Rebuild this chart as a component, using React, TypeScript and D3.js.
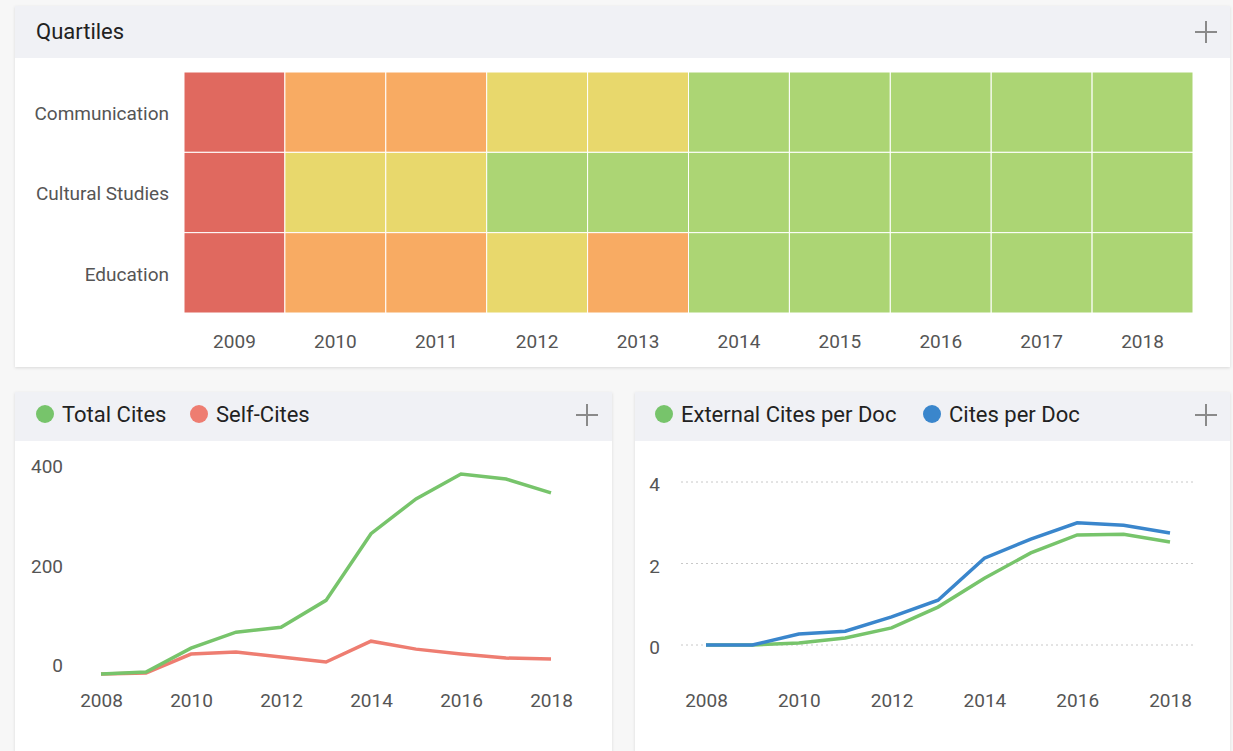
import React, { useEffect, useRef } from "react";
import * as d3 from "d3";

// quartile heatmap
const subjects = ["Communication", "Cultural Studies", "Education"];
const quartileYears = ["2009", "2010", "2011", "2012", "2013", "2014", "2015", "2016", "2017", "2018"];
const communicationQ = ["Q4", "Q3", "Q3", "Q2", "Q2", "Q1", "Q1", "Q1", "Q1", "Q1"];
const culturalQ = ["Q4", "Q2", "Q2", "Q1", "Q1", "Q1", "Q1", "Q1", "Q1", "Q1"];
const educationQ = ["Q4", "Q3", "Q3", "Q2", "Q3", "Q1", "Q1", "Q1", "Q1", "Q1"];
const quartiles = ["Q1", "Q2", "Q3", "Q4"];
const quartileColors = ["#acd574", "#e8d86c", "#f8ab63", "#e0695f"];

// cites charts
const years = [2008, 2009, 2010, 2011, 2012, 2013, 2014, 2015, 2016, 2017, 2018];
const totalCites = [0, 4, 52, 84, 94, 148, 282, 352, 402, 392, 364];
const selfCites = [0, 2, 40, 44, 34, 24, 66, 50, 40, 32, 30];
const externalPerDoc = [0, 0, 0.05, 0.17, 0.42, 0.93, 1.64, 2.26, 2.7, 2.72, 2.53];
const citesPerDoc = [0, 0, 0.27, 0.34, 0.69, 1.1, 2.13, 2.6, 3.0, 2.94, 2.75];
const leftTicks = [0, 200, 400];
const rightTicks = [0, 2, 4];
const yearTicks = [2008, 2010, 2012, 2014, 2016, 2018];

const GREEN = "#77c46b";
const RED = "#ee7d71";
const BLUE = "#3a86cc";
const FONT = "Roboto, 'Noto Sans', sans-serif";
const LABEL_SIZE = 19;
const HEAD_SIZE = 22;

export default function App() {
  const ref = useRef<SVGSVGElement>(null);

  useEffect(() => {
    const svg = d3.select(ref.current);
    svg.selectAll("*").remove();

    const defs = svg.append("defs");
    const f = defs.append("filter").attr("id", "shadow").attr("x", -0.05).attr("y", -0.05).attr("width", 1.1).attr("height", 1.1);
    f.append("feDropShadow").attr("dx", 0).attr("dy", 1).attr("stdDeviation", 1.5).attr("flood-color", "#000").attr("flood-opacity", 0.12);

    svg.append("rect").attr("width", 1233).attr("height", 751).attr("fill", "#f7f7f7");

    // panels
    const panel = (x: number, y: number, w: number, h: number, headH: number) => {
      svg.append("rect").attr("x", x).attr("y", y).attr("width", w).attr("height", h).attr("fill", "#fff").attr("filter", "url(#shadow)");
      svg.append("rect").attr("x", x).attr("y", y).attr("width", w).attr("height", headH).attr("fill", "#f0f1f5");
    };
    const plus = (cx: number, cy: number) => {
      const g = svg.append("g").attr("stroke", "#8a8a8a").attr("stroke-width", 2);
      g.append("line").attr("x1", cx - 11).attr("x2", cx + 11).attr("y1", cy).attr("y2", cy);
      g.append("line").attr("x1", cx).attr("x2", cx).attr("y1", cy - 11).attr("y2", cy + 11);
    };

    panel(15, 6, 1215, 361, 52);
    panel(15, 392, 597, 370, 49);
    panel(635, 392, 595, 370, 49);
    plus(1206, 32);
    plus(587, 415);
    plus(1206, 415);

    svg.append("text").attr("x", 36).attr("y", 39).text("Quartiles")
      .attr("font-family", FONT).attr("font-size", HEAD_SIZE).attr("fill", "#222");

    // heatmap
    const rows = [communicationQ, culturalQ, educationQ];
    const cells = rows.flatMap((r, i) => r.map((q, j) => ({ subject: subjects[i], year: quartileYears[j], q })));
    const x = d3.scaleBand().domain(quartileYears).range([184, 1193]);
    const y = d3.scaleBand().domain(subjects).range([72, 313]);
    const color = d3.scaleOrdinal<string>().domain(quartiles).range(quartileColors);

    svg.append("g").selectAll("rect").data(cells).join("rect")
      .attr("x", (d) => x(d.year)!)
      .attr("y", (d) => y(d.subject)!)
      .attr("width", x.bandwidth())
      .attr("height", y.bandwidth())
      .attr("fill", (d) => color(d.q))
      .attr("stroke", "#fff")
      .attr("stroke-width", 1);

    const hx = svg.append("g").attr("transform", "translate(0,313)")
      .call(d3.axisBottom(x).tickSize(0).tickPadding(22));
    hx.select(".domain").remove();
    hx.selectAll("text").attr("font-family", FONT).attr("font-size", LABEL_SIZE).attr("fill", "#555");

    const hy = svg.append("g").attr("transform", "translate(184,0)")
      .call(d3.axisLeft(y).tickSize(0).tickPadding(15));
    hy.select(".domain").remove();
    hy.selectAll("text").attr("font-family", FONT).attr("font-size", LABEL_SIZE).attr("fill", "#555").attr("dy", "0.42em");

    // legends
    const legend = (items: { label: string; color: string; cx: number }[]) => {
      items.forEach((it) => {
        svg.append("circle").attr("cx", it.cx).attr("cy", 414).attr("r", 9).attr("fill", it.color);
        svg.append("text").attr("x", it.cx + 17).attr("y", 422).text(it.label)
          .attr("font-family", FONT).attr("font-size", HEAD_SIZE).attr("fill", "#222");
      });
    };
    legend([{ label: "Total Cites", color: GREEN, cx: 45 }, { label: "Self-Cites", color: RED, cx: 199 }]);
    legend([{ label: "External Cites per Doc", color: GREEN, cx: 664 }, { label: "Cites per Doc", color: BLUE, cx: 932 }]);

    const styleAxis = (g: d3.Selection<SVGGElement, unknown, null, undefined>) => {
      g.select(".domain").remove();
      g.selectAll("text").attr("font-family", FONT).attr("font-size", LABEL_SIZE).attr("fill", "#555");
    };

    // left chart
    const lx = d3.scaleLinear().domain([2008, 2018]).range([101, 551]);
    const ly = d3.scaleLinear().domain([0, 400]).range([674, 475]);
    const lxa = svg.append("g").attr("transform", "translate(0,674)")
      .call(d3.axisBottom(lx).tickValues(yearTicks).tickFormat(d3.format("d")).tickSize(0).tickPadding(20));
    styleAxis(lxa);
    const lya = svg.append("g").attr("transform", "translate(63,0)")
      .call(d3.axisLeft(ly).tickValues(leftTicks).tickFormat(d3.format("d")).tickSize(0).tickPadding(0));
    styleAxis(lya);
    lya.selectAll("text").attr("dy", "-0.12em");

    const lineL = (vals: number[]) => d3.line<number>().x((_, i) => lx(years[i])).y((v) => ly(v))(vals);
    svg.append("path").attr("d", lineL(selfCites)).attr("fill", "none").attr("stroke", RED).attr("stroke-width", 3.5);
    svg.append("path").attr("d", lineL(totalCites)).attr("fill", "none").attr("stroke", GREEN).attr("stroke-width", 3.5);

    // right chart
    const rx = d3.scaleLinear().domain([2008, 2018]).range([706, 1170]);
    const ry = d3.scaleLinear().domain([0, 4]).range([645, 482]);
    svg.append("g").selectAll("line").data(rightTicks).join("line")
      .attr("x1", 681).attr("x2", 1193)
      .attr("y1", (d) => ry(d)).attr("y2", (d) => ry(d))
      .attr("stroke", "#c8c8c8").attr("stroke-width", 1).attr("stroke-dasharray", "2,3");
    const rxa = svg.append("g").attr("transform", "translate(0,674)")
      .call(d3.axisBottom(rx).tickValues(yearTicks).tickFormat(d3.format("d")).tickSize(0).tickPadding(20));
    styleAxis(rxa);
    const rya = svg.append("g").attr("transform", "translate(660,0)")
      .call(d3.axisLeft(ry).tickValues(rightTicks).tickFormat(d3.format("d")).tickSize(0).tickPadding(0));
    styleAxis(rya);
    rya.selectAll("text").attr("dy", "0.45em");

    const lineR = (vals: number[]) => d3.line<number>().x((_, i) => rx(years[i])).y((v) => ry(v))(vals);
    svg.append("path").attr("d", lineR(externalPerDoc)).attr("fill", "none").attr("stroke", GREEN).attr("stroke-width", 3.5);
    svg.append("path").attr("d", lineR(citesPerDoc)).attr("fill", "none").attr("stroke", BLUE).attr("stroke-width", 3.5);
  }, []);

  return (
    <svg ref={ref} width={1233} height={751} style={{ position: "absolute", left: 0, top: 0 }} />
  );
}
